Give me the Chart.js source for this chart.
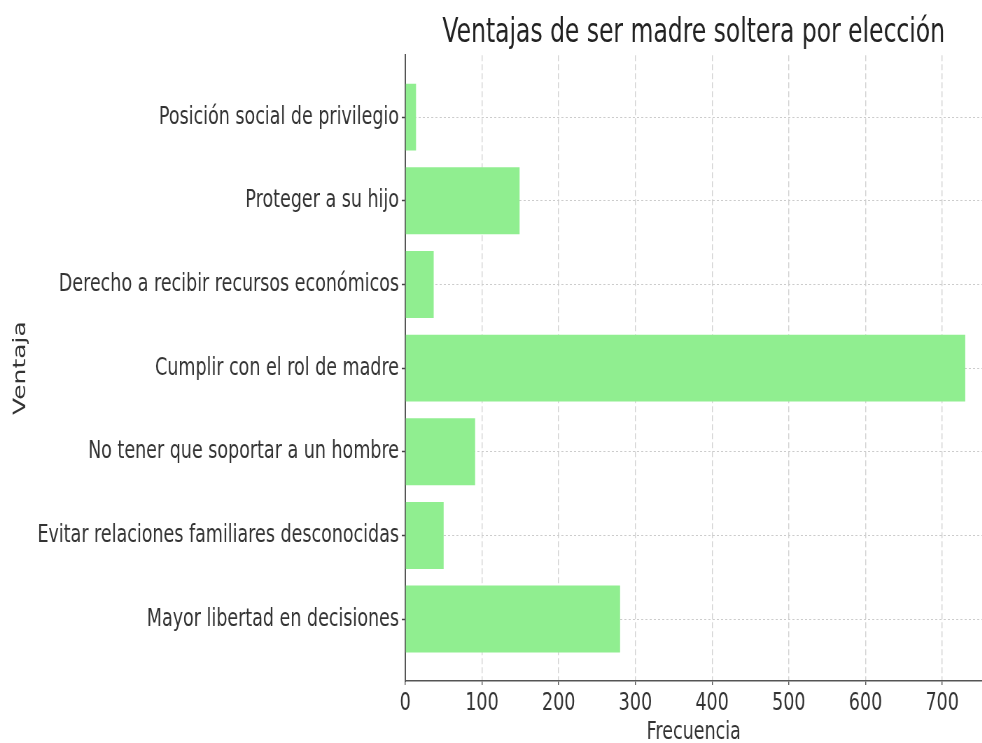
<!DOCTYPE html>
<html lang="es">
  <head>
    <meta charset="utf-8">
    <title>Ventajas de ser madre soltera por elección</title>
    <style>
      body{ margin: 0; background: #fff; overflow: hidden; }
      /* the reference picture is squeezed sideways, so draw wide and squeeze */
      #wrap{ position: relative; width: 1403px; height: 743px; transform: scaleX(0.7); transform-origin: 0 0; }
    </style>
  </head>
  <body>
    <div id="wrap"><canvas id="barChart"></canvas></div>
  <script src="https://cdn.jsdelivr.net/npm/chart.js@4/dist/chart.umd.min.js"></script>
  <script>
  // categories, top to bottom
  var VENTAJAS = [
    'Posición social de privilegio',
    'Proteger a su hijo',
    'Derecho a recibir recursos económicos',
    'Cumplir con el rol de madre',
    'No tener que soportar a un hombre',
    'Evitar relaciones familiares desconocidas',
    'Mayor libertad en decisiones'
  ];
  var FRECUENCIA = [14, 149, 37, 730, 91, 50, 280];
  var X_TICKS = [0, 100, 200, 300, 400, 500, 600, 700];

  Chart.defaults.font.family = "'DejaVu Sans', sans-serif";
  Chart.defaults.color = '#333';

  var points = FRECUENCIA.map(function(v, i){ return {x: v, y: i}; });

  var ctx = document.getElementById('barChart').getContext('2d');
  var chart = new Chart(ctx, {
    type: 'bar',
    data: {
      datasets: [{
        label: 'Frecuencia',
        data: points,
        backgroundColor: '#90ee90',
        borderWidth: 0,
        barPercentage: 0.8,
        categoryPercentage: 1.0
      }]
    },
    options: {
      indexAxis: 'y',
      responsive: true,
      maintainAspectRatio: false,
      devicePixelRatio: 1,
      animation: false,
      layout: { padding: 0 },
      plugins: {
        legend: { display: false },
        tooltip: { enabled: false },
        title: {
          display: true,
          text: 'Ventajas de ser madre soltera por elección',
          fullSize: false,
          color: '#222',
          font: { size: 33.5, weight: 'normal' },
          padding: { top: 13, bottom: 2 }
        }
      },
      scales: {
        x: {
          type: 'linear',
          min: 0,
          max: 752,
          afterBuildTicks: function(s){ s.ticks = X_TICKS.map(function(v){ return {value: v}; }); },
          afterFit: function(s){ s.height = 62; },
          ticks: { font: { size: 25 }, padding: 3, color: '#333' },
          grid: {
            color: '#d2d2d2',
            lineWidth: 1.4,
            tickLength: 4,
            tickColor: '#555',
            tickWidth: 1.4,
            tickBorderDash: []
          },
          border: { display: true, color: '#555', width: 1.5, dash: [6, 3] },
          title: {
            display: true,
            text: 'Frecuencia',
            font: { size: 25 },
            color: '#333',
            padding: { top: 0, bottom: -4 }
          }
        },
        y: {
          type: 'linear',
          reverse: true,
          offset: false,
          min: -0.74,
          max: 6.74,
          afterBuildTicks: function(s){ s.ticks = VENTAJAS.map(function(_, i){ return {value: i}; }); },
          afterFit: function(s){ s.width = 579; },
          ticks: {
            font: { size: 25 },
            padding: 4,
            color: '#333',
            callback: function(v){ return VENTAJAS[v]; }
          },
          grid: {
            offset: false,
            color: '#cccccc',
            lineWidth: 1,
            tickLength: 5,
            tickColor: '#444',
            tickWidth: 1.5,
            tickBorderDash: []
          },
          border: { display: true, color: '#555', width: 2, dash: [3, 3] },
          title: {
            display: true,
            text: 'Ventaja',
            font: { size: 25 },
            color: '#333',
            padding: { top: 14, bottom: 0 }
          }
        }
      }
    }
  });
  </script>
  </body>
</html>
